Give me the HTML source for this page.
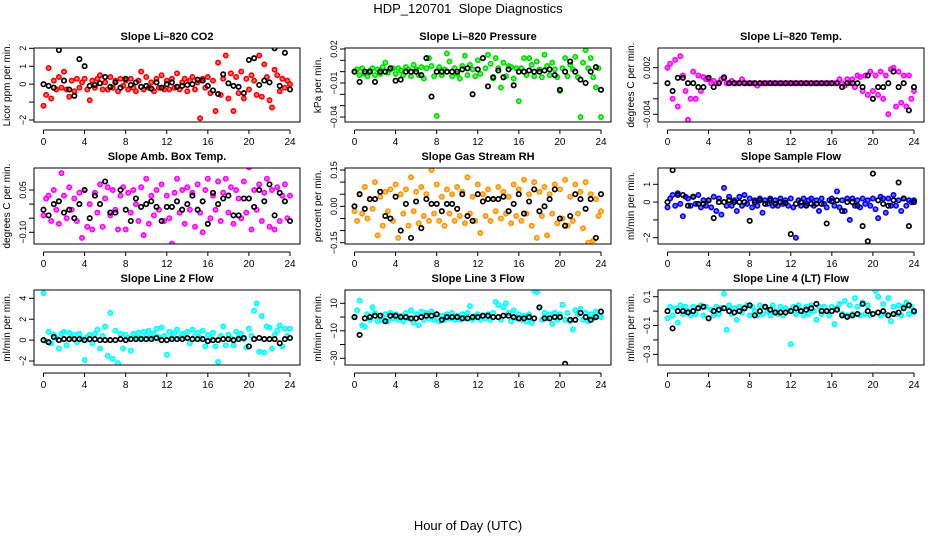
<!DOCTYPE html>
<html><head><meta charset="utf-8"><title>HDP_120701 Slope Diagnostics</title>
<style>
html,body{margin:0;padding:0;background:#fff;}
svg{display:block;font-family:"Liberation Sans",sans-serif;}
</style></head>
<body>
<svg id="chart" width="936" height="540" viewBox="0 0 936 540" xmlns="http://www.w3.org/2000/svg">
<text x="468" y="13" text-anchor="middle" font-size="13">HDP_120701&#160; Slope Diagnostics</text>
<text x="468" y="530" text-anchor="middle" font-size="13">Hour of Day (UTC)</text>
</svg>
<script>
const hoursColored = [0,0.25,0.5,0.75,1,1.25,1.5,1.75,2,2.25,2.5,2.75,3,3.25,3.5,3.75,4,4.25,4.5,4.75,5,5.25,5.5,5.75,6,6.25,6.5,6.75,7,7.25,7.5,7.75,8,8.25,8.5,8.75,9,9.25,9.5,9.75,10,10.25,10.5,10.75,11,11.25,11.5,11.75,12,12.25,12.5,12.75,13,13.25,13.5,13.75,14,14.25,14.5,14.75,15,15.25,15.5,15.75,16,16.25,16.5,16.75,17,17.25,17.5,17.75,18,18.25,18.5,18.75,19,19.25,19.5,19.75,20,20.25,20.5,20.75,21,21.25,21.5,21.75,22,22.25,22.5,22.75,23,23.25,23.5,23.75,24];
const hoursBlack = [0,0.5,1,1.5,2,2.5,3,3.5,4,4.5,5,5.5,6,6.5,7,7.5,8,8.5,9,9.5,10,10.5,11,11.5,12,12.5,13,13.5,14,14.5,15,15.5,16,16.5,17,17.5,18,18.5,19,19.5,20,20.5,21,21.5,22,22.5,23,23.5,24];
const xTicks = [0,4,8,12,16,20,24];

const co2Colored = [-1.2,-0.6,0.9,-0.8,0.2,-0.3,0.4,-0.2, 0.7,-0.3,-0.7,0.2,-0.4,0.3,-0.2,0.1, 0.3,-0.3,-0.9,0.2,-0.2,0.3,0.5,-0.3, 0.1,-0.3,0.4,-0.2,0.2,-0.4,0.3,-0.1, 0.2,-0.3,0.3,-0.2,-0.4,0.2,0.7,-0.3, 0.4,-0.2,0.1,-0.4,0.3,-0.2,0.5,-0.3, 0.2,-0.3,0.3,-0.2,0.6,-0.3,0.1,0.3, -0.4,0.2,0.4,-0.3,0.1,-1.9,0.3,-0.2, 0.4,-0.5,0.2,-1.5,1.2,-0.6,0.3,1.6, -0.8,0.6,-1.5,0.4,-0.5,0.7,-0.8,0.3, -0.3,0.5,0.2,-0.6,1.6,-0.7,1.1,0.4, -0.9,-1.3,0.8,0.5,-0.4,0.3,-0.2,0.2, 0.0];
const co2Black = [0,-0.1,-0.2,1.9,0.2,-0.3,-0.65,1.4,1.0,-0.1,-0.05,0.05,0.4,-0.15,0.1,-0.2,0.3,-0.05,0.1,-0.15,-0.1,-0.25,0.1,-0.2,0.0,0.1,-0.15,-0.1,-0.05,0.0,0.25,0.2,-0.1,-0.35,-0.55,0.55,0.05,-0.1,-0.15,-0.5,1.35,1.45,-0.05,0.2,0.1,2.0,-0.1,1.75,-0.3];
const co2Ticks = [2,1,0,-1,-2];
const co2TickLabels = ["2","1","0","","\u22122"];

const presColored = [0,0.002,-0.003,0.003,-0.002,-0.004,0.001,0.003, -0.003,0.002,-0.002,0.004,0.008,-0.001,0.002,0.003, -0.002,0.003,0.001,-0.003,0.004,0.002,-0.004,0.006, 0.002,-0.003,0.004,-0.006,0.003,0.012,0.005,-0.004, -0.039,0.004,-0.003,0.002,0.016,0.009,-0.004,0.003, -0.002,-0.006,0.005,0.014,-0.003,0.006,0.002,-0.004, 0.01,-0.002,-0.047,0.003,0.015,0.007,-0.006,0.012, 0.003,-0.014,0.008,-0.004,0.005,0.004,-0.006,0.003, -0.026,0.003,0.012,-0.003,0.012,0.006,-0.004,0.009, 0.002,-0.005,0.015,0.005,-0.003,0.008,0.002,-0.005, -0.017,0.003,0.012,-0.004,0.006,0.002,0.013,-0.005, -0.04,0.008,0.019,0.003,0.012,-0.005,-0.014,0.003, -0.04];
const presBlack = [0,-0.009,0,0,-0.009,0,0,0.003,-0.008,-0.007,0,0,0,-0.003,0.012,-0.022,0,0,0,0,0,0.002,0.003,-0.02,0.002,0.012,-0.013,-0.005,0.001,-0.005,0.002,-0.012,0,0,0.001,0,0,0.001,0.002,-0.003,-0.016,0,0.009,0,-0.007,-0.01,0,0.004,-0.016];
const presTicks = [0.02,0.01,0,-0.01,-0.02,-0.03,-0.04];
const presTickLabels = ["0.02","","","\u22120.01","","","\u22120.04"];

const tempColored = [0.002,0.0025,-0.002,0.003,-0.003,0.0035,0.001,-0.001, -0.0047,-0.002,0.0015,-0.002,0.001,-0.001,0.0008,0.0005, 0.0005,0,0.0003,0,0,0.0005,0.0008,0, 0,0.0003,0,0,0,0.0005,0,0, 0,0,0,-0.0003,0,0,0,0, 0,0,0,0,0,0,0,0, 0,0,0,0,0,0,0,0, 0,0,0,0,0,0,0,0, 0,0,0,0.0005,0,-0.0003,0.0005,0, 0.0005,-0.0005,0.001,0.0008,-0.001,0.001,-0.0015,0.0015, -0.001,0.001,-0.0015,0.0015,-0.002,0.001,-0.004,0.0018, 0.002,-0.003,0.0015,-0.0025,0.001,-0.003,0.001,-0.002, -0.001];
const tempBlack = [0,-0.001,0.0007,0.0007,0,0,-0.0005,-0.0005,0.0007,-0.0005,0,0.0007,0,0,0,0,0, 0,0,0,0,0,0,0,0,0,0,0,0,0,0,0,0,0, -0.0005,0,0,0,-0.0005,0.001,-0.002,-0.0005,-0.0005,0,0.0015,-0.0005,0,-0.0035,-0.0005];
const tempTicks = [0.002,0,-0.002,-0.004];
const tempTickLabels = ["0.002","","","\u22120.004"];

const ambColored = [-0.04,0.02,0.03,-0.06,0.05,-0.02,-0.07,0.11, 0.03,-0.05,0.06,-0.02,0.02,-0.06,0.04,-0.12, 0.05,-0.08,0.0,-0.09,0.04,-0.03,0.07,-0.08, 0.02,0.06,-0.04,0.05,-0.02,-0.09,0.03,0.06, -0.09,0.04,-0.03,0.05,0.0,-0.06,0.06,-0.11, 0.09,-0.07,0.03,-0.04,0.05,-0.02,0.07,-0.06, 0.03,-0.05,-0.14,0.04,0.09,-0.03,0.05,-0.07, 0.06,-0.02,0.04,-0.08,0.07,-0.03,-0.1,0.05, 0.09,-0.05,0.03,-0.02,0.08,-0.06,0.04,0.09, -0.03,0.06,-0.07,0.05,0.02,-0.05,0.08,-0.03, 0.13,-0.09,0.05,-0.02,0.07,-0.06,0.04,0.09, -0.08,0.05,-0.09,0.06,-0.06,0.03,0.07,-0.05, 0.03];
const ambBlack = [-0.02,-0.04,0.0,0.01,-0.03,-0.02,-0.05,0.0,0.05,-0.05,0.03,0.0,0.08,-0.03,-0.03,0.05,-0.02,-0.06,0.02,-0.01,0.0,0.01,-0.01,-0.06,-0.01,-0.01,0.01,-0.02,0.0,0.03,-0.02,0.01,-0.07,0.04,0.0,0.02,0.03,-0.04,-0.04,0.02,0.02,-0.01,0.05,0.01,0.07,-0.04,0.04,0.01,-0.06];
const ambTicks = [0.05,0,-0.05,-0.10];
const ambTickLabels = ["0.05","","","\u22120.10"];

const rhColored = [-0.02,-0.06,0.05,-0.03,0.08,-0.05,0.03,-0.01, 0.1,-0.12,0.04,-0.08,0.06,-0.02,0.07,-0.06, 0.09,-0.13,0.05,-0.03,0.07,-0.08,0.12,-0.02, 0.06,-0.07,0.08,-0.04,0.05,-0.06,0.15,-0.03, 0.09,-0.06,0.04,-0.08,0.07,-0.03,0.05,-0.06, 0.08,-0.04,0.06,-0.07,0.12,-0.03,0.04,-0.06, 0.09,-0.11,0.05,-0.04,0.07,-0.06,0.03,-0.02, 0.08,-0.05,0.06,-0.03,0.04,-0.07,0.09,-0.04, 0.07,-0.06,0.11,-0.03,0.05,-0.08,0.1,-0.13, 0.06,-0.04,0.08,-0.12,0.05,-0.03,0.09,-0.07, 0.07,-0.05,0.11,-0.08,0.04,-0.06,0.09,-0.03, 0.06,-0.09,0.1,-0.15,0.05,-0.14,0.03,-0.04, -0.02];
const rhBlack = [0.0,0.05,-0.01,0.03,0.03,0.06,-0.04,-0.05,0.04,-0.1,0.01,-0.13,0.02,-0.09,0.03,0.01,0.01,-0.02,0.01,0.01,-0.01,0.05,-0.04,-0.06,0.05,0.02,0.03,0.03,0.03,0.04,-0.02,0.01,0.05,-0.03,0.02,0.07,-0.02,0.0,0.03,0.07,-0.05,-0.08,-0.04,0.05,0.03,-0.01,0.03,-0.13,0.05];
const rhTicks = [0.15,0.10,0.05,0,-0.05,-0.10,-0.15];
const rhTickLabels = ["0.15","","","0.00","","","\u22120.15"];

const sampleColored = [-0.3,0.2,0.4,-0.2,0.5,-0.1,-0.8,0.3, 0.2,-0.2,0.3,-0.1,0.4,-0.3,0.1,-0.2, 0.1,-0.3,0.3,-0.5,0.2,-0.7,0.8,-0.2, 0.3,-0.2,0.1,-0.5,0.3,-0.2,0.4,-0.1, 0.2,-0.3,0.1,-0.2,0.2,-0.6,0.1,-0.1, 0.2,-0.2,0.1,-0.2,0.2,-0.1,0.1,-0.2, 0.2,-0.3,-2.0,0.1,-0.2,0.2,-0.1,0.1, 0.2,-0.2,0.1,-0.5,0.2,-0.1,-0.3,0.1, 0.2,-0.2,0.6,-0.3,0.1,-0.5,0.2,-1.0, 0.2,-0.2,0.1,-0.3,0.2,-0.1,0.1,-0.2, 0.2,-0.4,-0.9,0.3,0.2,-0.6,0.2,-0.2, 0.4,-0.2,0.1,-0.5,0.2,-0.2,0.1,0.0, 0.1];
const sampleBlack = [0,1.8,0.4,0.4,-0.2,0.3,-0.1,-0.1,0.1,-0.9,0.0,0.0,0.1,0.0,0.0,0.0,-1.05,0.0,0.1,-0.1,0.1,-0.1,0,-0.05,-1.8,-0.1,0.0,-0.2,-0.1,-0.1,-0.1,-1.2,0.05,0.1,-0.5,0.0,0.0,-0.2,-1.35,-2.2,1.6,0.1,-0.1,-0.2,0.1,1.1,0.2,-1.35,0.0];
const sampleTicks = [1,0,-1,-2];
const sampleTickLabels = ["1","0","","\u22122"];

const line2Colored = [4.5,-0.1,0.8,-0.3,0.5,0.2,-0.8,0.6, 0.8,-0.5,0.7,0.2,0.5,-0.2,0.6,0.1, -1.9,0.3,0.5,-0.3,0.6,1.0,-0.8,0.4, 1.3,-1.5,2.6,-1.8,0.9,-2.2,0.6,-0.8, 0.5,0.2,-1.0,0.6,0.3,0.7,0.2,0.8, 0.4,0.9,0.3,0.6,1.1,0.3,1.2,0.4, -1.4,0.8,0.3,0.7,1.0,0.2,0.6,0.3, 0.8,-0.3,1.0,0.4,0.7,0.2,0.9,-0.6, 0.5,0.2,0.7,-0.6,-2.1,0.4,1.3,-0.5, 0.5,0.2,-0.5,0.8,0.3,0.6,0.1,-0.7, 1.1,0.4,2.8,3.5,-1.1,2.3,-1.2,1.3, 1.2,-0.8,0.5,0.9,1.4,-0.6,1.1,0.4, 1.1];
const line2Black = [0,-0.2,0.3,0.0,0.1,0.1,0.1,0.1,0.0,0.1,0.1,0.0,0.0,0.0,0.0,0.1,0.0,0.1,0.1,0.1,0.1,0.1,0.2,0.0,0.0,0.1,0.1,0.1,0.2,0.1,0.1,0.1,-0.1,0.0,0.0,0.1,0.1,0.0,0.1,0.2,-0.6,0.1,0.2,0.1,0.1,0.1,-0.3,0.1,0.2];
const line2Ticks = [4,2,0,-2];
const line2TickLabels = ["4","2","0","\u22122"];

const line3Colored = [0,5,12,-6,-7,2,-2,7, 3,-3,1,-2,2,-3,3,-1, 2,-2,1,-3,3,-1,5,-4, 2,-6,4,-2,3,-1,4,-2, 2,-3,1,-2,2,-1,3,-2, 1,-2,2,-1,3,8,-2,1, 2,-2,1,-1,2,-2,3,11, 9,-2,7,10,3,-3,5,-1, 2,-2,1,-3,2,-4,19,18, 7,-2,3,-1,2,-5,3,-2, 2,9,-2,3,-3,-9,5,2, 6,-2,3,-3,2,-1,4,1, 0];
const line3Black = [0,-13,-1,0,1,1,-3,1,1,0,0,-1,-1,0,1,1,2,-2,0,0,0,-1,-1,0,0,1,1,0,0,1,1,0,-1,-1,0,-1,7,-1,-1,0,0,-34,-2,-2,3,0,-2,0,4];
const line3Ticks = [10,0,-10,-20,-30];
const line3TickLabels = ["10","","\u221210","","\u221230"];

const line4Colored = [-0.05,0.03,-0.03,0.02,-0.08,0.04,-0.02,0.03, 0.0,-0.03,0.03,-0.02,0.02,0.04,-0.03,0.03, -0.4,0.01,-0.03,0.03,-0.02,0.02,0.12,-0.13, 0.04,-0.02,0.02,-0.06,0.03,-0.01,0.02,0.04, -0.03,0.03,0.0,-0.03,0.04,-0.02,0.03,0.0, -0.03,0.04,0.0,-0.02,0.03,-0.03,0.02,0.0, -0.23,0.03,-0.02,0.04,0.0,-0.03,0.03,-0.02, 0.04,0.0,-0.06,0.03,-0.02,0.03,0.0,-0.03, 0.03,-0.09,0.02,0.05,-0.02,0.07,-0.03,0.04, -0.02,0.09,0.03,-0.03,0.06,-0.02,0.04,-0.03, -0.39,0.14,0.1,-0.03,0.05,-0.02,0.09,-0.07, 0.03,-0.02,0.04,-0.03,0.03,0.06,-0.02,0.03, -0.01];
const line4Black = [0,-0.12,0.0,0.0,-0.01,0.0,0.02,0.03,-0.05,0.0,0.01,0.02,0.0,-0.01,0.0,0.02,0.04,-0.03,0.0,0.03,0.01,-0.01,-0.01,-0.01,0.0,0.02,0.0,0.01,0.02,0.05,0.0,0.0,0.0,0.01,-0.03,-0.04,-0.03,-0.02,0.05,0.0,-0.02,-0.01,0.0,-0.03,-0.02,-0.01,0.02,0.04,0.0];
const line4Ticks = [0.1,0,-0.1,-0.2,-0.3];
const line4TickLabels = ["0.1","","\u22120.1","","\u22120.3"];

const NS = "http://www.w3.org/2000/svg";
const svg = document.getElementById("chart");
function mk(tag, attrs, parent) {
  const e = document.createElementNS(NS, tag);
  for (const k in attrs) e.setAttribute(k, attrs[k]);
  (parent || svg).appendChild(e);
  return e;
}
const colBox = [34, 345, 658];
const rowBox = [[48,122],[168,244],[290,365]];
const BOXW = 266;

const panels = [
  {key:"co2", title:"Slope Li\u2013820 CO2", ylab:"Licor ppm per min.", color:"#ff0000", colored:co2Colored, black:co2Black, ticks:co2Ticks, labels:co2TickLabels, a:2, pa:48.3, b:-2, pb:120},
  {key:"pressure", title:"Slope Li\u2013820 Pressure", ylab:"kPa per min.", color:"#00e000", colored:presColored, black:presBlack, ticks:presTicks, labels:presTickLabels, a:0.02, pa:49, b:-0.04, pb:117},
  {key:"li820-temp", title:"Slope Li\u2013820 Temp.", ylab:"degrees C per min.", color:"#ff00ff", colored:tempColored, black:tempBlack, ticks:tempTicks, labels:tempTickLabels, a:0.002, pa:67.7, b:-0.004, pb:114.3},
  {key:"amb-box-temp", title:"Slope Amb. Box Temp.", ylab:"degrees C per min.", color:"#ff00ff", colored:ambColored, black:ambBlack, ticks:ambTicks, labels:ambTickLabels, a:0.05, pa:190, b:-0.10, pb:232.3},
  {key:"gas-stream-rh", title:"Slope Gas Stream RH", ylab:"percent per min.", color:"#ff9500", colored:rhColored, black:rhBlack, ticks:rhTicks, labels:rhTickLabels, a:0.15, pa:170, b:-0.15, pb:242.7},
  {key:"sample-flow", title:"Slope Sample Flow", ylab:"ml/min per min.", color:"#0000ff", colored:sampleColored, black:sampleBlack, ticks:sampleTicks, labels:sampleTickLabels, a:1, pa:184.3, b:-2, pb:237.7},
  {key:"line2-flow", title:"Slope Line 2 Flow", ylab:"ml/min per min.", color:"#00ffff", colored:line2Colored, black:line2Black, ticks:line2Ticks, labels:line2TickLabels, a:4, pa:298.3, b:-2, pb:361},
  {key:"line3-flow", title:"Slope Line 3 Flow", ylab:"ml/min per min.", color:"#00ffff", colored:line3Colored, black:line3Black, ticks:line3Ticks, labels:line3TickLabels, a:10, pa:303.3, b:-30, pb:358.3},
  {key:"line4-flow", title:"Slope Line 4 (LT) Flow", ylab:"ml/min per min.", color:"#00ffff", colored:line4Colored, black:line4Black, ticks:line4Ticks, labels:line4TickLabels, a:0.1, pa:296.7, b:-0.3, pb:354.3}
];

panels.forEach((p, i) => {
  const bx = colBox[i % 3];
  const [top, bot] = rowBox[Math.floor(i / 3)];
  const xs = h => bx + 9.5 + h * (246.5 / 24);
  const ys = v => p.pa + (v - p.a) * (p.pb - p.pa) / (p.b - p.a);
  const g = mk("g", {});
  
  
  const clipId = "clip" + i;
  const cp = mk("clipPath", {id: clipId}, g);
  mk("rect", {x: bx, y: top, width: BOXW, height: bot - top}, cp);

  const t = mk("text", {x: bx + BOXW / 2, y: top - 8, "text-anchor": "middle", "font-size": "11", "font-weight": "bold"}, g);
  t.textContent = p.title;
  
  

  const yt = mk("text", {x: 0, y: 0, "text-anchor": "middle", "font-size": "10", transform: "translate(" + (bx - 24) + "," + ((top + bot) / 2) + ") rotate(-90)"}, g);
  yt.textContent = p.ylab;
  
  

  const pts = mk("g", {"clip-path": "url(#" + clipId + ")"}, g);
  
  
  p.colored.forEach((v, j) => {
    const c = mk("circle", {cx: xs(hoursColored[j]).toFixed(1), cy: ys(v).toFixed(1), r: 2.2, fill: p.color, "fill-opacity": 0.55, stroke: p.color, "stroke-width": 1.6}, pts);
    
    
  });
  p.black.forEach((v, j) => {
    const c = mk("circle", {cx: xs(hoursBlack[j]).toFixed(1), cy: ys(v).toFixed(1), r: 2.2, fill: "none", stroke: "#000", "stroke-width": 1.7}, pts);
    
    
  });

  const box = mk("rect", {x: bx, y: top, width: BOXW, height: bot - top, fill: "none", stroke: "#000", "stroke-width": 1}, g);
  
  

  const ya = mk("g", {}, g);
  
  
  p.ticks.forEach((v, j) => {
    const y = ys(v);
    mk("line", {x1: bx - 5, x2: bx, y1: y, y2: y, stroke: "#000"}, ya);
    if (p.labels[j]) {
      const tl = mk("text", {x: 0, y: 0, "text-anchor": "middle", "font-size": "9", transform: "translate(" + (bx - 8) + "," + y.toFixed(1) + ") rotate(-90)"}, ya);
      tl.textContent = p.labels[j];
      
      
    }
  });

  const xa = mk("g", {}, g);
  
  
  const ay = bot + 8;
  mk("line", {x1: xs(0), x2: xs(24), y1: ay, y2: ay, stroke: "#000"}, xa);
  xTicks.forEach(h => {
    mk("line", {x1: xs(h), x2: xs(h), y1: ay, y2: ay + 4, stroke: "#000"}, xa);
    const tl = mk("text", {x: xs(h), y: ay + 15, "text-anchor": "middle", "font-size": "10"}, xa);
    tl.textContent = String(h);
    
    
  });
});
</script>
</body></html>
